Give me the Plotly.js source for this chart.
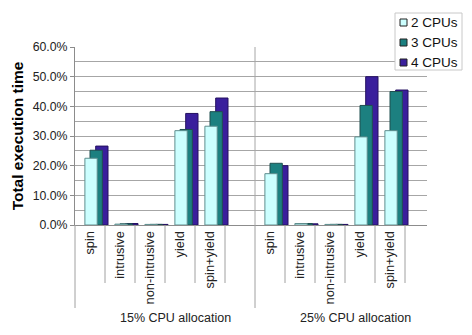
<!DOCTYPE html>
<html>
<head>
<meta charset="utf-8">
<script src="https://cdn.plot.ly/plotly-3.0.1.min.js"></script>
<style>html,body{margin:0;padding:0;background:#fff;}#chart{width:472px;height:335px;}</style>
</head>
<body>
<div id="chart"></div>
<script>
// ---- data ----
const categories = ['spin', 'intrusive', 'non-intrusive', 'yield', 'spin+yield'];
const groups = ['15% CPU allocation', '25% CPU allocation'];
const seriesNames = ['2 CPUs', '3 CPUs', '4 CPUs'];
const cpu2_15 = [0.225, 0.003, 0.002, 0.318, 0.333];
const cpu3_15 = [0.252, 0.004, 0.002, 0.322, 0.382];
const cpu4_15 = [0.266, 0.005, 0.002, 0.376, 0.428];
const cpu2_25 = [0.173, 0.005, 0.002, 0.297, 0.318];
const cpu3_25 = [0.208, 0.005, 0.002, 0.403, 0.450];
const cpu4_25 = [0.200, 0.004, 0.002, 0.500, 0.455];
const yTicks = [0, 0.1, 0.2, 0.3, 0.4, 0.5, 0.6];

// ---- layout helpers ----
const FONT = 'Liberation Sans, Arial, sans-serif';
const W = 472, H = 335;
const M = {l: 75, r: 45, t: 47, b: 110};
const PW = W - M.l - M.r, PH = H - M.t - M.b;
const slotsPerGroup = categories.length + 1;
const xRange = [-0.5, -0.5 + PW / 30];
const px2py = py => (H - M.b - py) / PH;
const px2px = px => (px - M.l) / PW;
const d2px = v => (v - xRange[0]) / (xRange[1] - xRange[0]);

const xs = [], tickText = [];
groups.forEach((g, gi) => categories.forEach((c, ci) => { xs.push(gi * slotsPerGroup + ci); tickText.push(c); }));

const colors = ['#ccffff', '#1c8080', '#3a1f9c'];
const lineColors = ['#5e8e8e', '#1f4f4f', '#241060'];
const offsets = [-0.17, 0.0, 0.19];
const values = [cpu2_15.concat(cpu2_25), cpu3_15.concat(cpu3_25), cpu4_15.concat(cpu4_25)];

// draw back-to-front: 4 CPUs first, 2 CPUs last (on top)
const traces = [2, 1, 0].map(i => ({
  type: 'bar', name: seriesNames[i], x: xs, y: values[i],
  width: 0.41, offset: offsets[i],
  marker: {color: colors[i], line: {color: lineColors[i], width: 1}},
  showlegend: false, hoverinfo: 'skip'
}));

const shapes = [];
const annotations = [];
// group boundary vertical gridline inside plot
shapes.push({type: 'line', xref: 'paper', yref: 'paper', x0: d2px(slotsPerGroup - 0.5), x1: d2px(slotsPerGroup - 0.5), y0: 0, y1: 1, line: {color: '#a6a6a6', width: 1}, layer: 'below'});
// category separators below axis
groups.forEach((g, gi) => {
  const start = gi * slotsPerGroup - 0.5;
  shapes.push({type: 'line', xref: 'paper', yref: 'paper', x0: d2px(start), x1: d2px(start), y0: 0, y1: px2py(308), line: {color: '#a0a0a0', width: 1}});
  for (let k = 1; k <= categories.length; k++) {
    const b = start + k;
    shapes.push({type: 'line', xref: 'paper', yref: 'paper', x0: d2px(b), x1: d2px(b), y0: 0, y1: px2py(283), line: {color: '#a0a0a0', width: 1}});
  }
  annotations.push({xref: 'x', yref: 'paper', x: start + 3.35, y: px2py(318), text: g, showarrow: false, xanchor: 'center', yanchor: 'middle', font: {family: FONT, size: 12.5, color: '#222'}});
});

// legend box
shapes.push({type: 'rect', xref: 'paper', yref: 'paper', x0: px2px(395), x1: px2px(462), y0: px2py(70), y1: px2py(13), line: {color: '#c8c8c8', width: 1}, fillcolor: '#fff'});
seriesNames.forEach((n, i) => {
  const cy = 22.5 + 20 * i;
  shapes.push({type: 'rect', xref: 'paper', yref: 'paper', x0: px2px(400), x1: px2px(407), y0: px2py(cy + 3.5), y1: px2py(cy - 3.5), line: {color: '#222', width: 1}, fillcolor: colors[i]});
  annotations.push({xref: 'paper', yref: 'paper', x: px2px(408.5), y: px2py(cy), text: n, showarrow: false, xanchor: 'left', yanchor: 'middle', font: {family: FONT, size: 13.5, color: '#111'}});
});

const layout = {
  width: W, height: H,
  margin: M,
  paper_bgcolor: '#fff', plot_bgcolor: '#fff',
  barmode: 'overlay',
  showlegend: false,
  font: {family: FONT, color: '#222'},
  xaxis: {
    range: xRange, tickvals: xs, ticktext: tickText, tickangle: -90,
    tickfont: {family: FONT, size: 12.8, color: '#222'},
    showgrid: false, zeroline: false, showline: true, linecolor: '#8c8c8c', linewidth: 1,
    ticks: '', fixedrange: true
  },
  yaxis: {
    range: [0, 0.6], tickvals: yTicks, tickformat: '.1%',
    tickfont: {family: FONT, size: 12.3, color: '#222'},
    showgrid: true, gridcolor: '#a6a6a6', gridwidth: 1,
    minor: {dtick: 0.05, showgrid: true, gridcolor: '#a6a6a6', gridwidth: 1, ticks: ''},
    zeroline: false, showline: true, linecolor: '#8c8c8c', linewidth: 1,
    ticks: 'outside', ticklen: 4, tickcolor: '#8c8c8c',
    title: {text: 'Total execution time', font: {family: FONT, size: 15.5, color: '#000', weight: 'bold'}, standoff: 5},
    fixedrange: true
  },
  shapes: shapes,
  annotations: annotations
};

Plotly.newPlot('chart', traces, layout, {displayModeBar: false, staticPlot: true});
</script>
</body>
</html>
